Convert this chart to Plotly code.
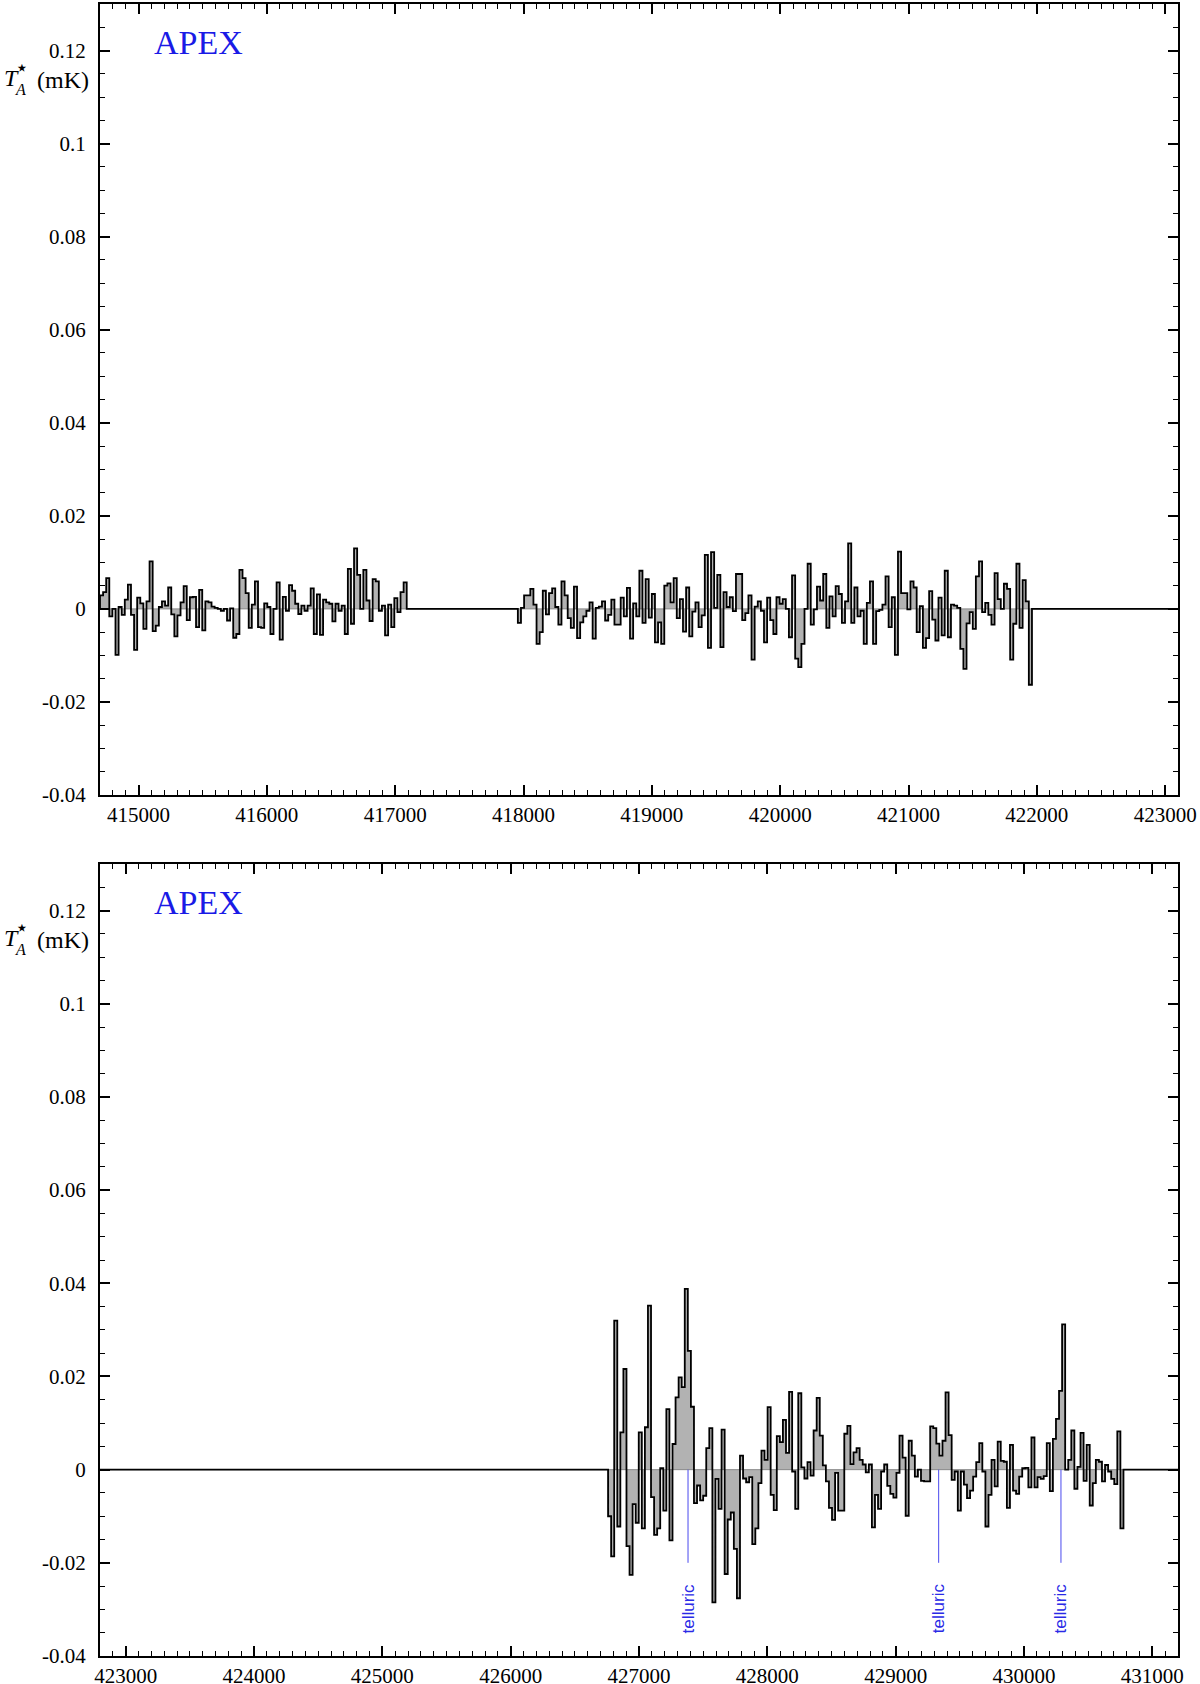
import plotly.graph_objects as go

# ---------------- data ----------------
# top panel: two observed segments (frequency in MHz)
seg1_start, seg1_end = 414700, 417090
seg1_vals = [0.0029, 0.0036, 0.0066, -0.0016, 0.0, -0.0099, 0.0004, -0.0013, 0.0020, 0.0052,
             -0.0013, -0.0088, 0.0024, 0.0012, -0.0043, 0.0016, 0.0102, -0.0048, -0.0036, 0.0004,
             0.0016, 0.0007, 0.0046, -0.0012, -0.0059, -0.0014, 0.0014, 0.0049, -0.0024, 0.0025,
             0.0026, -0.0039, 0.0041, -0.0046, 0.0016, 0.0014, 0.0005, 0.0002, 0.0, -0.0004,
             0.0, -0.0025, 0.0001, -0.0062, -0.0054, 0.0084, 0.0066, 0.0034, -0.0041, 0.0009,
             0.0059, -0.0039, -0.0041, 0.0012, 0.0004, -0.0054, 0.0, 0.0057, -0.0066, 0.0026,
             -0.0004, 0.0051, 0.0039, 0.0011, -0.0011, 0.0007, -0.0004, 0.0007, 0.0044, -0.0054,
             0.0031, -0.0056, 0.0020, 0.0014, 0.0011, -0.0027, 0.0011, -0.0004, 0.0007, -0.0054,
             0.0086, -0.0032, 0.0130, 0.0073, 0.0, 0.0084, 0.0018, -0.0026, 0.0064, 0.0059,
             -0.0004, 0.0007, -0.0057, 0.0009, -0.0039, 0.0023, -0.0007, 0.0036, 0.0057]

seg2_start, seg2_end = 417956, 421962
seg2_vals = [-0.0030, 0.0002, 0.0029, 0.0029, 0.0043, 0.0009, -0.0075, -0.0050, 0.0039, -0.0012,
             0.0034, 0.0044, 0.0004, -0.0034, 0.0059, 0.0029, -0.0020, -0.0041, 0.0048, -0.0063,
             -0.0029, -0.0016, -0.0004, 0.0014, -0.0064, 0.0002, 0.0005, 0.0016, -0.0025, -0.0013,
             0.0020, -0.0034, -0.0034, 0.0024, -0.0016, 0.0045, -0.0064, 0.0012, -0.0016, 0.0082,
             -0.0030, 0.0064, -0.0019, 0.0032, -0.0072, -0.0029, -0.0075, 0.0050, 0.0055, 0.0014,
             0.0066, -0.0020, 0.0021, -0.0049, 0.0046, -0.0059, -0.0006, 0.0014, -0.0039, -0.0014,
             0.0116, -0.0084, 0.0122, 0.0002, 0.0073, -0.0082, 0.0036, 0.0004, 0.0025, -0.0005,
             0.0075, 0.0075, -0.0024, -0.0009, 0.0029, -0.0109, 0.0005, 0.0016, -0.0004, -0.0072,
             0.0024, -0.0024, -0.0054, 0.0025, 0.0011, 0.0021, 0.0, -0.0061, 0.0072, -0.0107,
             -0.0125, -0.0075, 0.0, 0.0097, -0.0034, -0.0001, 0.0048, 0.0018, 0.0075, -0.0041,
             0.0027, -0.0016, 0.0049, 0.0032, -0.0030, 0.0016, 0.0141, -0.0030, 0.0046, -0.0016,
             -0.0004, -0.0075, 0.0013, 0.0059, -0.0075, -0.0005, -0.0002, 0.0009, 0.0070, -0.0039,
             0.0025, -0.0099, 0.0123, 0.0034, 0.0034, -0.0001, 0.0059, 0.0046, -0.0050, 0.0006,
             -0.0084, -0.0063, 0.0038, -0.0023, -0.0068, 0.0024, -0.0057, 0.0082, -0.0061, 0.0009,
             0.0007, 0.0002, -0.0086, -0.0129, -0.0031, -0.0007, -0.0043, 0.0070, 0.0102, -0.0007,
             0.0013, -0.0013, -0.0034, 0.0077, 0.0021, 0.0, 0.0054, 0.0043, -0.0109, -0.0032,
             0.0097, -0.0041, 0.0062, 0.0016, -0.0163]

# bottom panel: one observed segment
seg3_start, seg3_end = 426759, 430775
seg3_vals = [-0.0100, -0.0186, 0.0320, -0.0122, 0.0080, 0.0216, -0.0164, -0.0226, -0.0074, -0.0114,
             0.0080, -0.0126, 0.0091, 0.0352, -0.0059, -0.0140, -0.0126, 0.0003, -0.0088, 0.0130,
             -0.0152, 0.0055, 0.0155, 0.0198, 0.0177, 0.0388, 0.0255, 0.0135, -0.0072, -0.0034,
             -0.0066, -0.0056, 0.0046, 0.0089, -0.0285, -0.0020, -0.0084, 0.0086, -0.0224, -0.0107,
             -0.0092, -0.0170, -0.0276, 0.0030, -0.0019, -0.0027, -0.0016, -0.0160, -0.0126, -0.0029,
             0.0041, 0.0021, 0.0134, -0.0054, -0.0087, 0.0072, 0.0059, 0.0107, 0.0036, 0.0167,
             -0.0004, -0.0084, 0.0164, 0.0005, -0.0019, 0.0016, -0.0013, 0.0084, 0.0154, 0.0073,
             0.0009, -0.0025, -0.0082, -0.0108, -0.0007, -0.0088, -0.0088, 0.0077, 0.0094, 0.0012,
             0.0037, 0.0046, 0.0021, 0.0011, -0.0006, 0.0011, -0.0124, -0.0054, -0.0084, -0.0004,
             0.0011, -0.0035, -0.0052, -0.0060, -0.0007, 0.0073, 0.0026, -0.0099, 0.0062, 0.0030,
             -0.0015, 0.0, -0.0024, -0.0025, -0.0025, 0.0093, 0.0089, 0.0056, 0.0030, 0.0062,
             0.0166, 0.0074, -0.0022, -0.0004, -0.0088, -0.0004, -0.0032, -0.0061, -0.0045, -0.0015,
             0.0016, 0.0057, -0.0004, -0.0122, -0.0054, 0.0021, -0.0036, 0.0060, 0.0019, 0.0017,
             -0.0082, 0.0053, -0.0045, -0.0052, -0.0015, 0.0003, 0.0004, -0.0038, 0.0069, -0.0038,
             -0.0016, -0.0020, -0.0014, 0.0057, -0.0046, 0.0066, 0.0109, 0.0169, 0.0312, 0.0000,
             0.0021, 0.0084, -0.0041, 0.0006, 0.0079, -0.0024, 0.0053, -0.0077, -0.0029, 0.0021,
             0.0017, -0.0025, 0.0010, -0.0004, -0.0020, -0.0031, 0.0082, -0.0126]

top_range = [414700, 423100]
bot_range = [422800, 431200]
y_range = [-0.04, 0.13]

telluric_freqs = [427382, 429335, 430288]
telluric_label = "telluric"

y_tickvals = [-0.04, -0.02, 0, 0.02, 0.04, 0.06, 0.08, 0.1, 0.12]
y_ticktext = ["-0.04", "-0.02", "0", "0.02", "0.04", "0.06", "0.08", "0.1", "0.12"]
top_xticks = [415000, 416000, 417000, 418000, 419000, 420000, 421000, 422000, 423000]
bot_xticks = [423000, 424000, 425000, 426000, 427000, 428000, 429000, 430000, 431000]


def build_steps(segments, xmin, xmax):
    xs, ys = [xmin], [0.0]
    for start, end, vals in segments:
        w = (end - start) / len(vals)
        for i, v in enumerate(vals):
            xs.append(start + i * w)
            ys.append(v)
        xs.append(end)
        ys.append(0.0)
    xs.append(xmax)
    ys.append(0.0)
    return xs, ys


fig = go.Figure()

panels = [
    ("x", "y", [(seg1_start, seg1_end, seg1_vals), (seg2_start, seg2_end, seg2_vals)], top_range),
    ("x2", "y2", [(seg3_start, seg3_end, seg3_vals)], bot_range),
]

for xa, ya, segs, rng in panels:
    xs, ys = build_steps(segs, rng[0] - 200, rng[1] + 200)
    fig.add_trace(go.Scatter(x=xs, y=ys, mode="lines", line=dict(shape="hv", width=0, color="rgba(0,0,0,0)"),
                             fill="tozeroy", fillcolor="#b2b2b2", xaxis=xa, yaxis=ya,
                             hoverinfo="skip", showlegend=False))
    fig.add_trace(go.Scatter(x=[rng[0] - 200, rng[1] + 200], y=[0, 0], mode="lines",
                             line=dict(color="#8a8a8a", width=1), xaxis=xa, yaxis=ya,
                             hoverinfo="skip", showlegend=False))
    fig.add_trace(go.Scatter(x=xs, y=ys, mode="lines", line=dict(shape="hv", width=1.8, color="black"),
                             xaxis=xa, yaxis=ya, showlegend=False))

# telluric markers
for f in telluric_freqs:
    fig.add_trace(go.Scatter(x=[f, f], y=[0, -0.02], mode="lines",
                             line=dict(color="#4a4aee", width=1), xaxis="x2", yaxis="y2",
                             hoverinfo="skip", showlegend=False))
    fig.add_annotation(x=f, y=-0.0298, xref="x2", yref="y2", text=telluric_label, textangle=-90,
                       showarrow=False, font=dict(family="Liberation Sans", size=17, color="#2a2ae6"),
                       xanchor="center", yanchor="middle")

tickfont = dict(family="Liberation Serif", size=21, color="black")

common_x = dict(showline=True, linewidth=2, linecolor="black", mirror="allticks",
                ticks="inside", ticklen=10, tickwidth=1.5, tickcolor="black", automargin=False,
                showgrid=False, zeroline=False, tickfont=tickfont, tickformat="d",
                minor=dict(ticks="inside", dtick=100, ticklen=5, tickwidth=1.2, tickcolor="black"))
common_y = dict(showline=True, linewidth=2, linecolor="black", mirror="allticks",
                ticks="inside", ticklen=10, tickwidth=1.5, tickcolor="black", automargin=False,
                showgrid=False, zeroline=False, tickfont=tickfont, range=y_range,
                tickmode="array", tickvals=y_tickvals, ticktext=y_ticktext, ticklabelstandoff=8,
                minor=dict(ticks="inside", tickmode="linear", tick0=0, dtick=0.005, ticklen=5,
                           tickwidth=1.2, tickcolor="black"))

W, H = 1200, 1684
ml, mr, mt, mb = 100, 22, 4, 28
pw, ph = W - ml - mr, H - mt - mb


def py(pix):
    return (H - mb - pix) / ph


def px(pix):
    return (pix - ml) / pw


fig.update_layout(
    width=W, height=H, margin=dict(l=ml, r=mr, t=mt, b=mb, autoexpand=False),
    paper_bgcolor="white", plot_bgcolor="white",
    xaxis=dict(common_x, domain=[0, 1], anchor="y", range=top_range,
               tickmode="array", tickvals=top_xticks, ticktext=[str(v) for v in top_xticks]),
    yaxis=dict(common_y, domain=[py(795), 1], anchor="x"),
    xaxis2=dict(common_x, domain=[0, 1], anchor="y2", range=bot_range,
                tickmode="array", tickvals=bot_xticks, ticktext=[str(v) for v in bot_xticks]),
    yaxis2=dict(common_y, domain=[0, py(864)], anchor="x2"),
)

# panel labels and axis titles
for off in (0, 860):
    fig.add_annotation(x=px(198), y=py(42 + off), xref="paper", yref="paper", text="APEX",
                       showarrow=False, font=dict(family="Liberation Serif", size=34, color="#1a1ae6"),
                       xanchor="center", yanchor="middle")
    fig.add_annotation(x=px(11), y=py(78 + off), xref="paper", yref="paper", text="<i>T</i>",
                       showarrow=False, font=dict(family="Liberation Serif", size=24, color="black"),
                       xanchor="center", yanchor="middle")
    fig.add_annotation(x=px(22), y=py(67 + off), xref="paper", yref="paper", text="⋆",
                       showarrow=False, font=dict(family="DejaVu Sans", size=22, color="black"),
                       xanchor="center", yanchor="middle")
    fig.add_annotation(x=px(20), y=py(89 + off), xref="paper", yref="paper", text="<i>A</i>",
                       showarrow=False, font=dict(family="Liberation Serif", size=16, color="black"),
                       xanchor="center", yanchor="middle")
    fig.add_annotation(x=px(62.5), y=py(80 + off), xref="paper", yref="paper", text="(mK)",
                       showarrow=False, font=dict(family="Liberation Serif", size=24, color="black"),
                       xanchor="center", yanchor="middle")

fig.write_html("out.html", config={"displayModeBar": False},
               post_script="document.body.style.margin='0';document.body.style.padding='0';")
